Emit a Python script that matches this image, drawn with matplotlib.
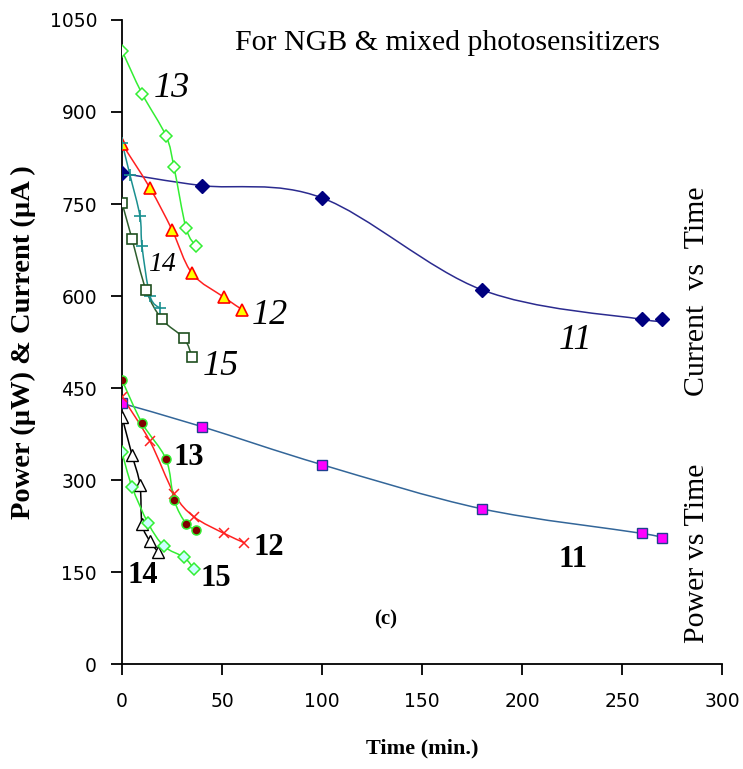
import numpy as np
import matplotlib
matplotlib.use("Agg")
import matplotlib.pyplot as plt
from matplotlib.path import Path
from matplotlib.patches import PathPatch

# current vs time (upper group)
t11 = [0, 40, 100, 180, 260, 270]
i11 = [800, 780, 760, 610, 562, 562]
t12 = [0, 14, 25, 35, 51, 60]
i12 = [848, 776, 708, 637, 598, 578]
t13 = [0, 10, 22, 26, 32, 37]
i13 = [1000, 930, 861, 810, 711, 681]
t14 = [0, 4, 9, 10, 14, 19]
i14 = [850, 797, 730, 681, 600, 580]
t15 = [0, 5, 12, 20, 31, 35]
i15 = [752, 693, 610, 562, 531, 501]

# power vs time (lower group)
p11 = [425, 387, 325, 253, 213, 205]
tp12 = [0, 14, 26, 36, 51, 61]
p12 = [436, 363, 278, 240, 213, 198]
tp13 = [0, 10, 22, 26, 32, 37]
p13 = [463, 393, 334, 268, 229, 219]
tp14 = [0, 5, 9, 10, 14, 18]
p14 = [403, 341, 292, 229, 200, 183]
tp15 = [0, 5, 13, 21, 31, 36]
p15 = [345, 289, 230, 192, 174, 155]

SERIF = "Liberation Serif"


def smooth(ax, x, y, color, lw=1.1):
    # excel-like smoothed line (catmull-rom as cubic bezier)
    pts = np.column_stack([x, y]).astype(float)
    n = len(pts)
    verts, codes = [pts[0]], [Path.MOVETO]
    for i in range(n - 1):
        p0 = pts[max(i - 1, 0)]
        p1, p2 = pts[i], pts[i + 1]
        p3 = pts[min(i + 2, n - 1)]
        verts += [p1 + (p2 - p0) / 6, p2 - (p3 - p1) / 6, p2]
        codes += [Path.CURVE4] * 3
    ax.add_patch(PathPatch(Path(verts, codes), fill=False, edgecolor=color, lw=lw, zorder=2))


def series(ax, x, y, color, **mk):
    smooth(ax, x, y, color)
    ax.plot(x, y, ls="none", zorder=3, **mk)


fig = plt.figure(figsize=(7.43, 7.69), dpi=100)
ax = fig.add_axes([0.1642, 0.1365, 0.8075, 0.8375])

series(ax, t11, i11, "#2b2b8f", marker="D", ms=7, mfc="#000080", mec="#000080")
series(ax, t12, i12, "#ff2020", marker="^", ms=9, mfc="#ffff00", mec="#ff0000", mew=1.2)
series(ax, t13, i13, "#33ee33", marker="D", ms=6.5, mfc="white", mec="#33ee33", mew=1.1)
series(ax, t14, i14, "#1a9090", marker="+", ms=8, mec="#1a9090", mew=1.2)
series(ax, t15, i15, "#2e5e2e", marker="s", ms=7, mfc="white", mec="#1f4f1f", mew=1.2)

series(ax, t11, p11, "#336699", marker="s", ms=7, mfc="#ff00ff", mec="#1f3f8f", mew=1.0)
series(ax, tp12, p12, "#ff2020", marker="x", ms=7, mec="#ff2020", mew=1.1)
series(ax, tp13, p13, "#33ee33", marker="o", ms=6.5, mfc="#800000", mec="#33ee33", mew=1.1)
series(ax, tp14, p14, "black", marker="^", ms=8, mfc="white", mec="black", mew=1.0)
series(ax, tp15, p15, "#33ee33", marker="D", ms=6.5, mfc="#ccffff", mec="#33ee33", mew=1.1)

ax.set_xlim(0, 300)
ax.set_ylim(0, 1050)
ax.set_xticks(np.arange(0, 301, 50))
ax.set_yticks(np.arange(0, 1051, 150))
for s in ("top", "right"):
    ax.spines[s].set_visible(False)
for s in ("left", "bottom"):
    ax.spines[s].set_linewidth(1.3)
ax.tick_params(direction="out", length=8, width=1.3, labelsize=13.5, pad=12)
ax.tick_params(axis="y", pad=10)
ax.set_xlabel("Time (min.)", fontfamily=SERIF, fontweight="bold", fontsize=16, labelpad=20)
ax.set_ylabel("Power (\u00b5W) & Current (\u00b5A )", fontfamily=SERIF, fontweight="bold",
              fontsize=20.5, labelpad=10)

ax.text(163, 1012, "For NGB & mixed photosensitizers", fontfamily=SERIF, fontsize=21.5,
        ha="center", va="center")
ital = dict(fontfamily=SERIF, style="italic", fontsize=26, ha="center", va="center")
ax.text(25, 939, "13", **ital)
ax.text(74, 568, "12", **ital)
ax.text(20, 651, "14", **{**ital, "fontsize": 20})
ax.text(49.5, 485, "15", **ital)
ax.text(227, 527, "11", **ital)
bold = dict(fontfamily=SERIF, fontweight="bold", fontsize=22, ha="center", va="center")
ax.text(33.5, 336, "13", **bold)
ax.text(73.5, 190, "12", **bold)
ax.text(10.3, 145, "14", **bold)
ax.text(47, 140, "15", **bold)
ax.text(225.5, 170, "11", **bold)
ax.text(132, 72, "(c)", fontfamily=SERIF, fontweight="bold", fontsize=15, ha="center", va="center")
ax.text(287.5, 608, "Current  vs  Time", fontfamily=SERIF, fontsize=21.5, rotation=90,
        ha="center", va="center")
ax.text(287.5, 180, "Power vs Time", fontfamily=SERIF, fontsize=21.5, rotation=90,
        ha="center", va="center")

fig.savefig("out.png", dpi=100, facecolor="white")
